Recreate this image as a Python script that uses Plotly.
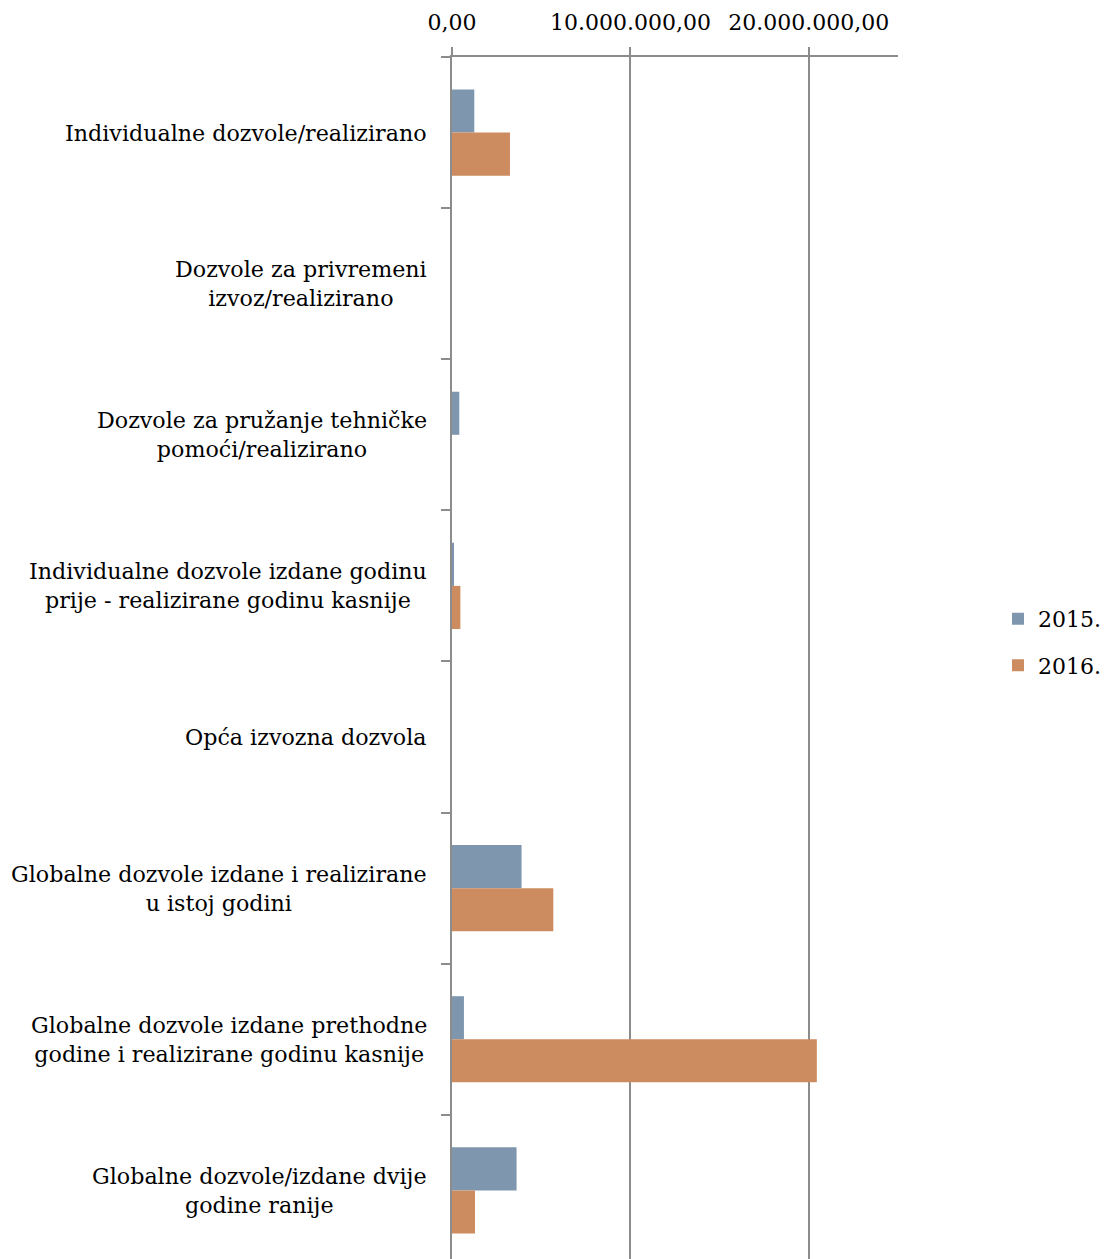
import plotly.graph_objects as go

categories = [
    "Individualne dozvole/realizirano",
    "Dozvole za privremeni<br>izvoz/realizirano",
    "Dozvole za pružanje tehničke<br>pomoći/realizirano",
    "Individualne dozvole izdane godinu<br>prije - realizirane godinu kasnije",
    "Opća izvozna dozvola",
    "Globalne dozvole izdane i realizirane<br>u istoj godini",
    "Globalne dozvole izdane prethodne<br>godine i realizirane godinu kasnije",
    "Globalne dozvole/izdane dvije<br>godine ranije",
]
values_2015 = [1250000, 0, 410000, 60000, 0, 3900000, 670000, 3620000]
values_2016 = [3250000, 0, 0, 470000, 0, 5680000, 20450000, 1290000]
series_names = ["2015.", "2016."]

color_2015 = "#7f97ae"
color_2016 = "#cd8c5f"
grid_color = "#8c8c8c"
font_family = "DejaVu Serif"

fig = go.Figure()
fig.add_trace(go.Bar(
    y=categories, x=values_2015, name=series_names[0], orientation="h",
    marker=dict(color=color_2015, line=dict(width=0)), legendgroup="a",
))
fig.add_trace(go.Bar(
    y=categories, x=values_2016, name=series_names[1], orientation="h",
    marker=dict(color=color_2016, line=dict(width=0)), legendgroup="b",
))

annotations = []
for c in categories:
    annotations.append(dict(
        x=0, xref="paper", y=c, yref="y", xanchor="right", yanchor="middle",
        xshift=-23, text=c, showarrow=False, align="center",
        font=dict(family=font_family, size=22.2, color="#000000"),
    ))

fig.update_layout(
    width=1102, height=1251,
    margin=dict(l=444, r=212, t=49, b=0, pad=0, autoexpand=False),
    paper_bgcolor="white", plot_bgcolor="white",
    barmode="group", bargap=0.43, bargroupgap=0,
    separators=",.",
    font=dict(family=font_family, size=22, color="#000000"),
    annotations=annotations,
    legend=dict(
        x=1.2242, xanchor="left", y=0.513, yanchor="middle",
        traceorder="grouped", tracegroupgap=15,
        font=dict(family=font_family, size=22, color="#000000"),
        bgcolor="rgba(0,0,0,0)",
    ),
    xaxis=dict(
        side="top", range=[0, 25000000], dtick=10000000, tick0=0,
        tickformat=",.2f", showgrid=True, gridcolor=grid_color, gridwidth=2,
        showline=True, linecolor=grid_color, linewidth=2,
        ticks="outside", ticklen=8, tickcolor=grid_color, tickwidth=2,
        zeroline=False, ticklabelstandoff=8,
        tickfont=dict(family=font_family, size=22, color="#000000"),
    ),
    yaxis=dict(
        type="category", categoryorder="array", categoryarray=categories,
        range=[7.454, -0.5], tickson="boundaries",
        ticks="outside", ticklen=9, tickcolor=grid_color, tickwidth=2,
        showline=True, linecolor=grid_color, linewidth=2,
        showgrid=False, showticklabels=False, zeroline=False,
    ),
)

fig.write_html("out.html")
